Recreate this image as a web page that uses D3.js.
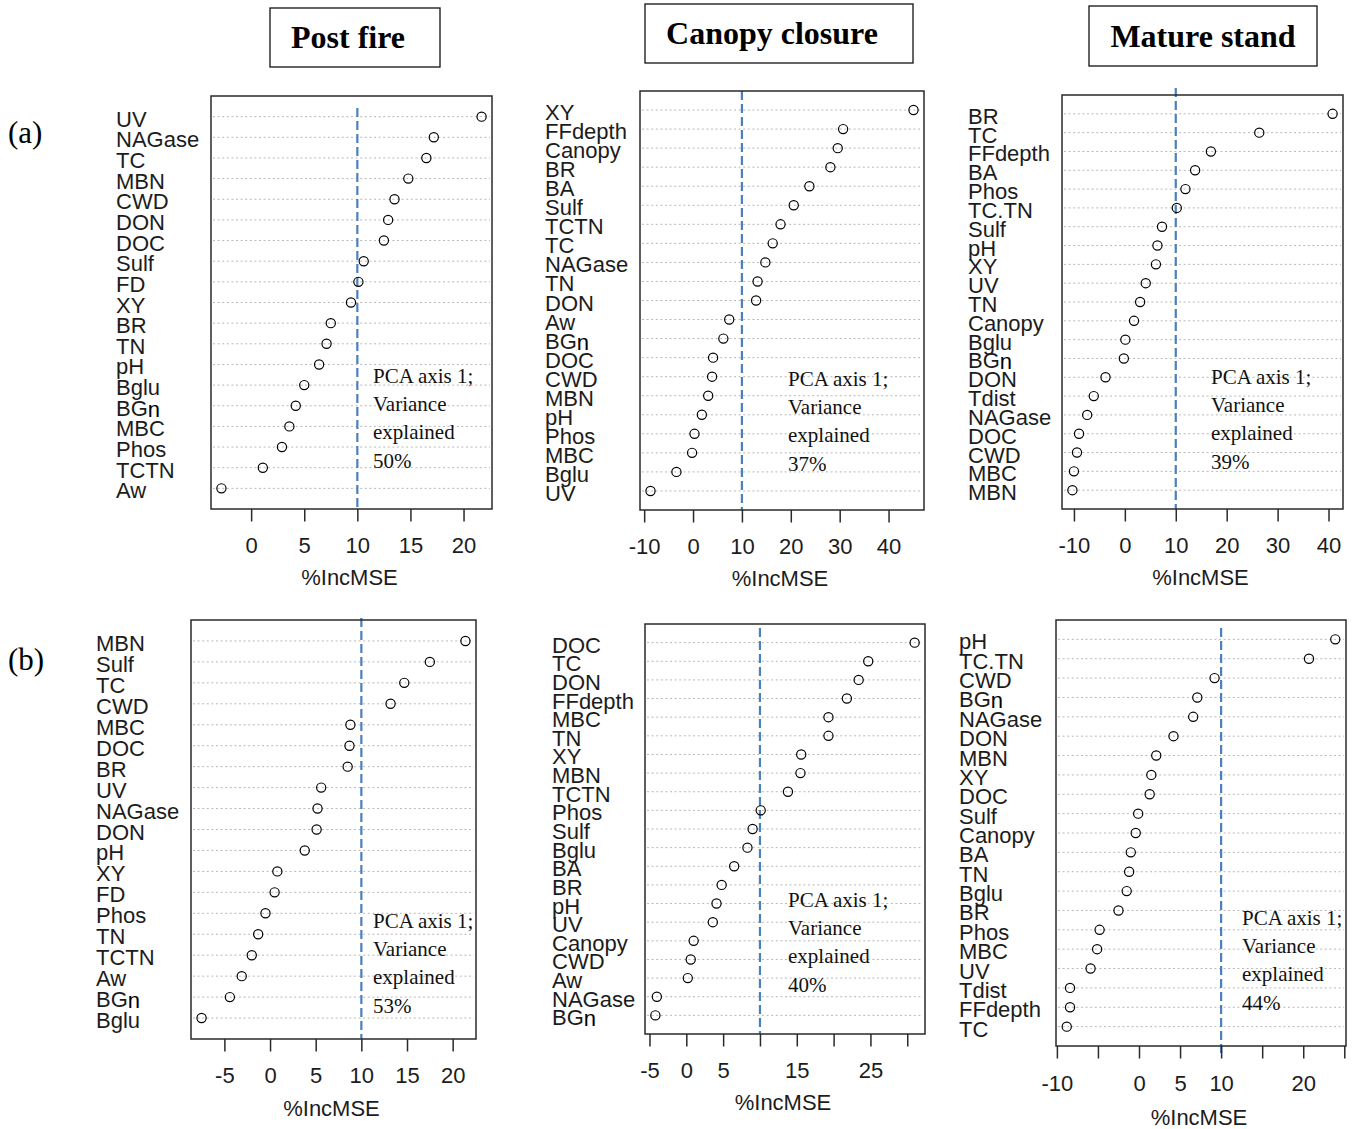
<!DOCTYPE html>
<html>
<head>
<meta charset="utf-8">
<script src="https://cdn.jsdelivr.net/npm/d3@7"></script>
<style>
  html, body { margin: 0; padding: 0; background: #fff; }
  svg { display: block; }
</style>
</head>
<body>
<svg id="fig" width="1355" height="1129"></svg>
<script>
// Random-forest variable importance (%IncMSE) for PCA axis 1, by stand stage.
// Row (a) and row (b) each hold three dot charts: Post fire, Canopy closure, Mature stand.

// ---- (a) Post fire
const aPostVars = ["UV","NAGase","TC","MBN","CWD","DON","DOC","Sulf","FD","XY","BR","TN","pH","Bglu","BGn","MBC","Phos","TCTN","Aw"];
const aPostImp  = [21.7, 17.2, 16.5, 14.8, 13.5, 12.9, 12.5, 10.6, 10.1, 9.4, 7.5, 7.1, 6.4, 5.0, 4.2, 3.6, 2.9, 1.1, -2.8];

// ---- (a) Canopy closure
const aCanopyVars = ["XY","FFdepth","Canopy","BR","BA","Sulf","TCTN","TC","NAGase","TN","DON","Aw","BGn","DOC","CWD","MBN","pH","Phos","MBC","Bglu","UV"];
const aCanopyImp  = [45.1, 30.7, 29.6, 28.1, 23.8, 20.6, 17.9, 16.3, 14.8, 13.2, 12.9, 7.4, 6.2, 4.1, 3.9, 3.1, 1.8, 0.3, -0.2, -3.4, -8.7];

// ---- (a) Mature stand
const aMatureVars = ["BR","TC","FFdepth","BA","Phos","TC.TN","Sulf","pH","XY","UV","TN","Canopy","Bglu","BGn","DON","Tdist","NAGase","DOC","CWD","MBC","MBN"];
const aMatureImp  = [40.8, 26.4, 16.9, 13.8, 11.9, 10.2, 7.3, 6.4, 6.1, 4.1, 3.0, 1.8, 0.1, -0.2, -3.8, -6.1, -7.4, -9.0, -9.4, -10.0, -10.3];

// ---- (b) Post fire
const bPostVars = ["MBN","Sulf","TC","CWD","MBC","DOC","BR","UV","NAGase","DON","pH","XY","FD","Phos","TN","TCTN","Aw","BGn","Bglu"];
const bPostImp  = [21.4, 17.5, 14.7, 13.2, 8.8, 8.7, 8.5, 5.6, 5.2, 5.1, 3.8, 0.8, 0.5, -0.5, -1.3, -2.0, -3.1, -4.4, -7.5];

// ---- (b) Canopy closure
const bCanopyVars = ["DOC","TC","DON","FFdepth","MBC","TN","XY","MBN","TCTN","Phos","Sulf","Bglu","BA","BR","pH","UV","Canopy","CWD","Aw","NAGase","BGn"];
const bCanopyImp  = [31.0, 24.7, 23.4, 21.8, 19.3, 19.3, 15.6, 15.5, 13.8, 10.1, 9.0, 8.3, 6.5, 4.8, 4.1, 3.6, 1.0, 0.6, 0.2, -4.0, -4.2];

// ---- (b) Mature stand
const bMatureVars = ["pH","TC.TN","CWD","BGn","NAGase","DON","MBN","XY","DOC","Sulf","Canopy","BA","TN","Bglu","BR","Phos","MBC","UV","Tdist","FFdepth","TC"];
const bMatureImp  = [23.9, 20.7, 9.2, 7.1, 6.6, 4.2, 2.1, 1.5, 1.3, -0.1, -0.4, -1.0, -1.2, -1.5, -2.5, -4.8, -5.1, -5.9, -8.4, -8.4, -8.8];

// Axis ticks and the labels printed under them (blank = label suppressed)
const aPostTicks = [0, 5, 10, 15, 20];
const aPostTickLabels = ["0", "5", "10", "15", "20"];
const aCanopyTicks = [-10, 0, 10, 20, 30, 40];
const aCanopyTickLabels = ["-10", "0", "10", "20", "30", "40"];
const aMatureTicks = [-10, 0, 10, 20, 30, 40];
const aMatureTickLabels = ["-10", "0", "10", "20", "30", "40"];
const bPostTicks = [-5, 0, 5, 10, 15, 20];
const bPostTickLabels = ["-5", "0", "5", "10", "15", "20"];
const bCanopyTicks = [-5, 0, 5, 10, 15, 20, 25, 30];
const bCanopyTickLabels = ["-5", "0", "5", "", "15", "", "25", ""];
const bMatureTicks = [-10, -5, 0, 5, 10, 15, 20, 25];
const bMatureTickLabels = ["-10", "", "0", "5", "10", "", "20", ""];

// Variance explained by PCA axis 1
const varianceExplained = [50, 37, 39, 53, 40, 44];

// Stage headers and row tags
const stageTitles = ["Post fire", "Canopy closure", "Mature stand"];
const rowTags = ["(a)", "(b)"];

const refValue = 10;        // reference line on %IncMSE
const axisTitle = "%IncMSE";

// ---------------------------------------------------------------- layout
const panels = [
  { vars: aPostVars,   imp: aPostImp,   ticks: aPostTicks,   tickLabels: aPostTickLabels,
    box: [211, 96, 492, 509],    labelX: 116, note: [373, 383], pct: varianceExplained[0],
    refTop: 12, refBot: 0, tickPad: 16, titleOff: 76 },
  { vars: aCanopyVars, imp: aCanopyImp, ticks: aCanopyTicks, tickLabels: aCanopyTickLabels,
    box: [640, 91, 924, 510],    labelX: 545, note: [788, 386], pct: varianceExplained[1],
    refTop: 0, refBot: 0, tickPad: 16, titleOff: 76 },
  { vars: aMatureVars, imp: aMatureImp, ticks: aMatureTicks, tickLabels: aMatureTickLabels,
    box: [1062, 95, 1343, 509],  labelX: 968, note: [1211, 384], pct: varianceExplained[2],
    refTop: -7, refBot: 0, tickPad: 16, titleOff: 76 },
  { vars: bPostVars,   imp: bPostImp,   ticks: bPostTicks,   tickLabels: bPostTickLabels,
    box: [191, 620, 476, 1039],  labelX: 96, note: [373, 928], pct: varianceExplained[3],
    refTop: -2, refBot: 0, tickPad: 16, titleOff: 77 },
  { vars: bCanopyVars, imp: bCanopyImp, ticks: bCanopyTicks, tickLabels: bCanopyTickLabels,
    box: [645, 624, 925, 1034],  labelX: 552, note: [788, 907], pct: varianceExplained[4],
    refTop: 4, refBot: 0, tickPad: 16, titleOff: 76 },
  { vars: bMatureVars, imp: bMatureImp, ticks: bMatureTicks, tickLabels: bMatureTickLabels,
    box: [1056, 620, 1346, 1046], labelX: 959, note: [1242, 925], pct: varianceExplained[5],
    refTop: 8, refBot: -7, tickPad: 17, titleOff: 79 }
];

const headers = [
  { text: stageTitles[0], rect: [270, 8, 440, 67],  cx: 348 },
  { text: stageTitles[1], rect: [645, 4, 913, 63],  cx: 772 },
  { text: stageTitles[2], rect: [1089, 6, 1317, 66], cx: 1203 }
];

const SANS = "'Liberation Sans', Arial, Helvetica, sans-serif";
const SERIF = "'Liberation Serif', 'Times New Roman', Times, serif";
const INK = "#1c1c1c";

const svg = d3.select("#fig");
svg.append("rect").attr("width", 1355).attr("height", 1129).attr("fill", "#fff");

// ---- stage headers
headers.forEach(h => {
  const [x0, y0, x1, y1] = h.rect;
  const g = svg.append("g").attr("class", "header");
  g.append("rect")
    .attr("x", x0).attr("y", y0).attr("width", x1 - x0).attr("height", y1 - y0)
    .attr("fill", "none").attr("stroke", "#111").attr("stroke-width", 1.3);
  g.append("text")
    .attr("x", h.cx).attr("y", (y0 + y1) / 2 + 10.5)
    .attr("text-anchor", "middle")
    .attr("font-family", SERIF).attr("font-weight", "bold").attr("font-size", 32)
    .attr("fill", "#000")
    .text(h.text);
});

// ---- row tags
svg.append("text").attr("x", 8).attr("y", 143)
  .attr("font-family", SERIF).attr("font-size", 31).attr("fill", "#000").text(rowTags[0]);
svg.append("text").attr("x", 8).attr("y", 670)
  .attr("font-family", SERIF).attr("font-size", 31).attr("fill", "#000").text(rowTags[1]);

// ---- dot charts
panels.forEach(p => {
  const [left, top, right, bottom] = p.box;
  const g = svg.append("g").attr("class", "panel");

  // x: data range widened by 4% on each side
  const [lo, hi] = d3.extent(p.imp);
  const pad = (hi - lo) * 0.04;
  const x = d3.scaleLinear().domain([lo - pad, hi + pad]).range([left, right]);

  // y: one row per variable, with one full step of padding at each end
  const y = d3.scalePoint().domain(p.vars).range([top, bottom]).padding(1);

  // dotted row guides
  g.selectAll("line.guide").data(p.vars).join("line")
    .attr("class", "guide")
    .attr("x1", left + 2).attr("x2", right - 2)
    .attr("y1", d => y(d)).attr("y2", d => y(d))
    .attr("stroke", "#b8b8b8").attr("stroke-width", 1)
    .attr("stroke-dasharray", "2,2.6");

  // reference line at %IncMSE = 10
  g.append("line")
    .attr("x1", x(refValue)).attr("x2", x(refValue))
    .attr("y1", top + p.refTop).attr("y2", bottom - p.refBot)
    .attr("stroke", "#4a7fc0").attr("stroke-width", 2.2)
    .attr("stroke-dasharray", "9,4");

  // points
  g.selectAll("circle.pt").data(p.vars.map((v, i) => ({ v, val: p.imp[i] }))).join("circle")
    .attr("class", "pt")
    .attr("cx", d => x(d.val)).attr("cy", d => y(d.v))
    .attr("r", 4.6)
    .attr("fill", "none").attr("stroke", "#000").attr("stroke-width", 1.2);

  // frame
  g.append("rect")
    .attr("x", left).attr("y", top).attr("width", right - left).attr("height", bottom - top)
    .attr("fill", "none").attr("stroke", "#2a2a2a").attr("stroke-width", 1.5);

  // variable names
  const lab = g.selectAll("text.var").data(p.vars).join("text")
    .attr("class", "var")
    .attr("x", p.labelX).attr("y", d => y(d) + 10)
    .attr("font-family", SANS).attr("font-size", 22).attr("fill", INK);
  lab.each(function (d) {
    const t = d3.select(this);
    if (d === "BGn") {
      t.append("tspan").text("BG");
      t.append("tspan").attr("fill", "#000").attr("dy", 1).text("n");
    } else {
      t.text(d);
    }
  });

  // x axis
  const axis = d3.axisBottom(x)
    .tickValues(p.ticks)
    .tickSizeInner(12.5).tickSizeOuter(0)
    .tickPadding(p.tickPad)
    .tickFormat((d, i) => p.tickLabels[i]);
  const ax = g.append("g").attr("transform", `translate(0,${bottom})`).call(axis);
  ax.select(".domain").remove();
  ax.selectAll(".tick line").attr("stroke", "#2a2a2a").attr("stroke-width", 1.5);
  ax.selectAll(".tick text")
    .attr("font-family", SANS).attr("font-size", 22).attr("fill", INK);

  // axis title
  g.append("text")
    .attr("x", (left + right) / 2 - 2).attr("y", bottom + p.titleOff)
    .attr("text-anchor", "middle")
    .attr("font-family", SANS).attr("font-size", 22).attr("fill", INK)
    .text(axisTitle);

  // PCA note
  const noteLines = ["PCA axis 1;", "Variance", "explained", p.pct + "%"];
  g.selectAll("text.note").data(noteLines).join("text")
    .attr("class", "note")
    .attr("x", p.note[0]).attr("y", (d, i) => p.note[1] + i * 28.2)
    .attr("font-family", SERIF).attr("font-size", 21).attr("fill", "#111")
    .text(d => d);
});
</script>
</body>
</html>
